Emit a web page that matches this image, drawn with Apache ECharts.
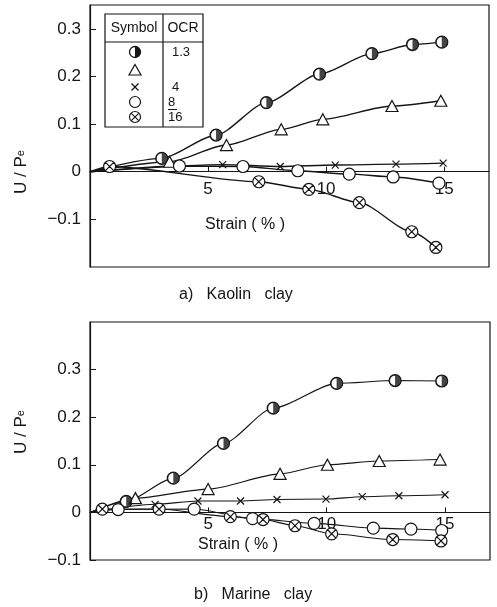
<!DOCTYPE html>
<html>
<head>
<meta charset="utf-8">
<script src="https://cdn.jsdelivr.net/npm/echarts@6/dist/echarts.min.js"></script>
<style>
  html, body { margin: 0; padding: 0; background: #fff; }
  #chart { width: 497px; height: 607px; }
</style>
</head>
<body>
<div id="chart"></div>
<script>
// Pore pressure ratio U/Pe against axial strain (%), one curve per over-consolidation ratio.

const xTicks = [5, 10, 15];
const yTicks = [-0.1, 0, 0.1, 0.2, 0.3];
const ocrLabels = ['1.3', '', '4', '8', '16'];
const origin = [0, 0];

// a) Kaolin clay — [strain %, U/Pe]
const kaolinOcr13 = [[3.04, 0.028], [5.34, 0.077], [7.47, 0.145], [9.72, 0.205], [11.94, 0.248], [13.66, 0.267], [14.90, 0.272]];
const kaolinOcr2  = [[3.37, 0.021], [5.78, 0.056], [8.10, 0.089], [9.86, 0.110], [12.79, 0.138], [14.86, 0.149]];
const kaolinOcr4  = [[5.62, 0.015], [8.06, 0.011], [10.39, 0.014], [12.96, 0.016], [14.96, 0.018]];
const kaolinOcr8  = [[3.79, 0.012], [6.48, 0.011], [8.80, 0.002], [10.98, -0.005], [12.84, -0.011], [14.78, -0.024]];
const kaolinOcr16 = [[0.83, 0.011], [7.15, -0.021], [9.27, -0.037], [11.41, -0.065], [13.63, -0.126], [14.65, -0.159]];

// b) Marine clay — [strain %, U/Pe]
const marineOcr13 = [[1.53, 0.023], [3.52, 0.072], [5.64, 0.145], [7.74, 0.219], [10.42, 0.271], [12.89, 0.277], [14.86, 0.276]];
const marineOcr2  = [[1.92, 0.030], [4.99, 0.049], [8.03, 0.081], [10.03, 0.100], [12.22, 0.108], [14.79, 0.111]];
const marineOcr4  = [[2.75, 0.017], [4.56, 0.024], [6.36, 0.024], [7.90, 0.027], [9.97, 0.028], [11.50, 0.033], [13.05, 0.035], [15.00, 0.037]];
const marineOcr8  = [[1.19, 0.006], [4.40, 0.007], [6.87, -0.013], [9.47, -0.023], [11.97, -0.033], [13.56, -0.035], [14.86, -0.038]];
const marineOcr16 = [[0.52, 0.007], [2.92, 0.007], [5.93, -0.009], [7.31, -0.015], [8.66, -0.028], [10.21, -0.045], [12.79, -0.057], [14.83, -0.060]];

const INK = '#151515';
const FONT = 'Liberation Sans, Arial, sans-serif';

// marker shapes
const HALF_DISC = 'path://M0,-10A10,10,0,0,1,0,10A10,10,0,0,1,0,-10L0,-8.4A8.4,8.4,0,0,0,0,8.4Z';
const CROSS = 'path://M-1,-1L1,1M-1,1L1,-1';
const CIRCLE_X = 'path://M0,-10A10,10,0,1,1,0,10A10,10,0,1,1,0,-10ZM-6.8,-6.8L6.8,6.8M-6.8,6.8L6.8,-6.8';

const markers = [
  { symbol: 'circle',   size: 12, fill: '#fff', overlay: HALF_DISC }, // OCR 1.3
  { symbol: 'triangle', size: [12, 11], fill: '#fff' },               // OCR 2
  { symbol: CROSS,      size: 7,  fill: 'transparent' },              // OCR 4
  { symbol: 'circle',   size: 12, fill: '#fff' },                     // OCR 8
  { symbol: CIRCLE_X,   size: 12, fill: '#fff' }                      // OCR 16
];

function curve(points, m, axisIndex, lineWidth) {
  const list = [{ value: origin, symbol: 'none' }].concat(points);
  const out = [{
    type: 'line',
    xAxisIndex: axisIndex, yAxisIndex: axisIndex,
    data: list,
    smooth: 0.25,
    smoothMonotone: 'x',
    symbol: m.symbol,
    symbolSize: m.size,
    showAllSymbol: true,
    lineStyle: { color: INK, width: lineWidth },
    itemStyle: { color: m.fill, borderColor: INK, borderWidth: 1.2 },
    emphasis: { disabled: true },
    silent: true,
    z: 3
  }];
  if (m.overlay) {
    out.push({
      type: 'scatter',
      xAxisIndex: axisIndex, yAxisIndex: axisIndex,
      data: points,
      symbol: m.overlay,
      symbolSize: m.size,
      itemStyle: { color: INK },
      emphasis: { disabled: true },
      silent: true,
      z: 4
    });
  }
  return out;
}

const kaolinSets = [kaolinOcr13, kaolinOcr2, kaolinOcr4, kaolinOcr8, kaolinOcr16];
const marineSets = [marineOcr13, marineOcr2, marineOcr4, marineOcr8, marineOcr16];

let series = [];
kaolinSets.forEach((pts, i) => { series = series.concat(curve(pts, markers[i], 0, 1.4)); });
marineSets.forEach((pts, i) => { series = series.concat(curve(pts, markers[i], 1, 1.1)); });

function fmtY(v) {
  if (v === 0) return '0';
  return (v < 0 ? '\u22120.' : '0.') + Math.round(Math.abs(v) * 10);
}

const gridA = { left: 90, top: 5, width: 399, height: 262, yMin: -0.2, yMax: 0.35 };
const gridB = { left: 90, top: 322, width: 400, height: 238, yMin: -0.1, yMax: 0.4 };

// the strain axis runs along U/Pe = 0, so lift it from the grid bottom to that level
function xAxisDef(gridIndex, g, labelMargin) {
  const lift = (0 - g.yMin) / (g.yMax - g.yMin) * g.height;
  return {
    type: 'value', gridIndex: gridIndex, min: 0, max: 16.9,
    position: 'bottom', offset: -lift,
    axisLine: { onZero: false, lineStyle: { color: INK, width: 1.2 } },
    axisTick: { show: true, inside: true, length: 5, customValues: xTicks, lineStyle: { color: INK, width: 1 } },
    axisLabel: { customValues: xTicks, margin: labelMargin, color: INK, fontSize: 17, fontFamily: FONT },
    splitLine: { show: false }
  };
}

function yAxisDef(gridIndex, g) {
  return {
    type: 'value', gridIndex: gridIndex, min: g.yMin, max: g.yMax,
    axisLine: { show: true, onZero: false, lineStyle: { color: INK, width: 1.2 } },
    axisTick: { show: true, inside: true, length: 6, customValues: yTicks, lineStyle: { color: INK, width: 1 } },
    axisLabel: { customValues: yTicks, margin: 9, color: INK, fontSize: 17, fontFamily: FONT, formatter: fmtY },
    splitLine: { show: false }
  };
}

// symbol/OCR table drawn inside the Kaolin panel
const rowY = [52, 70, 87, 102, 117];
const symX = 135;
const R = 5.5;
const legendGraphics = [
  { type: 'rect', shape: { x: 105, y: 14, width: 98, height: 113 }, style: { fill: '#fff', stroke: INK, lineWidth: 1.2 }, z: 10 },
  { type: 'line', shape: { x1: 105, y1: 42, x2: 203, y2: 42 }, style: { stroke: INK, lineWidth: 1.2 }, z: 11 },
  { type: 'line', shape: { x1: 163, y1: 14, x2: 163, y2: 127 }, style: { stroke: INK, lineWidth: 1.2 }, z: 11 },
  { type: 'text', x: 134, y: 28, style: { text: 'Symbol', fill: INK, font: '14px ' + FONT, textAlign: 'center', textVerticalAlign: 'middle' }, z: 11 },
  { type: 'text', x: 183, y: 28, style: { text: 'OCR', fill: INK, font: '14px ' + FONT, textAlign: 'center', textVerticalAlign: 'middle' }, z: 11 },
  // half-filled circle
  { type: 'circle', shape: { cx: symX, cy: rowY[0], r: R }, style: { fill: '#fff', stroke: INK, lineWidth: 1.3 }, z: 11 },
  { type: 'sector', shape: { cx: symX, cy: rowY[0], r: R, r0: 0, startAngle: -Math.PI / 2, endAngle: Math.PI / 2, clockwise: true }, style: { fill: INK }, z: 12 },
  // triangle
  { type: 'polygon', shape: { points: [[symX, rowY[1] - 5.5], [symX + 6, rowY[1] + 5], [symX - 6, rowY[1] + 5]] }, style: { fill: '#fff', stroke: INK, lineWidth: 1.2 }, z: 11 },
  // cross
  { type: 'line', shape: { x1: symX - 3.5, y1: rowY[2] - 3.5, x2: symX + 3.5, y2: rowY[2] + 3.5 }, style: { stroke: INK, lineWidth: 1.3 }, z: 11 },
  { type: 'line', shape: { x1: symX - 3.5, y1: rowY[2] + 3.5, x2: symX + 3.5, y2: rowY[2] - 3.5 }, style: { stroke: INK, lineWidth: 1.3 }, z: 11 },
  // open circle
  { type: 'circle', shape: { cx: symX, cy: rowY[3], r: R }, style: { fill: '#fff', stroke: INK, lineWidth: 1.2 }, z: 11 },
  // crossed circle
  { type: 'circle', shape: { cx: symX, cy: rowY[4], r: R }, style: { fill: '#fff', stroke: INK, lineWidth: 1.2 }, z: 11 },
  { type: 'line', shape: { x1: symX - 3.7, y1: rowY[4] - 3.7, x2: symX + 3.7, y2: rowY[4] + 3.7 }, style: { stroke: INK, lineWidth: 1.1 }, z: 12 },
  { type: 'line', shape: { x1: symX - 3.7, y1: rowY[4] + 3.7, x2: symX + 3.7, y2: rowY[4] - 3.7 }, style: { stroke: INK, lineWidth: 1.1 }, z: 12 },
  // rule under "8"
  { type: 'line', shape: { x1: 168, y1: 109.5, x2: 177, y2: 109.5 }, style: { stroke: INK, lineWidth: 1 }, z: 11 }
];
ocrLabels.forEach((t, i) => {
  if (!t) return;
  legendGraphics.push({ type: 'text', x: i >= 3 ? 168 : 172, y: rowY[i], style: { text: t, fill: INK, font: '13px ' + FONT, textAlign: 'left', textVerticalAlign: 'middle' }, z: 11 });
});

function yName(cy) {
  return {
    type: 'text', x: 21, y: cy, rotation: Math.PI / 2,
    style: {
      text: '{a|U / P}{b|e}',
      fill: INK, textAlign: 'center', textVerticalAlign: 'middle',
      rich: {
        a: { fontSize: 17, fontFamily: FONT, fill: INK, lineHeight: 20 },
        b: { fontSize: 11, fontFamily: FONT, fill: INK, lineHeight: 20 }
      }
    }
  };
}

function plainText(x, y, t, size, align) {
  return { type: 'text', x: x, y: y, style: { text: t, fill: INK, font: size + 'px ' + FONT, textAlign: align || 'left', textVerticalAlign: 'middle' } };
}

const option = {
  backgroundColor: '#fff',
  animation: false,
  grid: [
    { left: gridA.left, top: gridA.top, width: gridA.width, height: gridA.height, show: true, borderColor: INK, borderWidth: 1.2, backgroundColor: 'transparent' },
    { left: gridB.left, top: gridB.top, width: gridB.width, height: gridB.height, show: true, borderColor: INK, borderWidth: 1.2, backgroundColor: 'transparent' }
  ],
  xAxis: [xAxisDef(0, gridA, 9), xAxisDef(1, gridB, 3)],
  yAxis: [yAxisDef(0, gridA), yAxisDef(1, gridB)],
  series: series,
  graphic: legendGraphics.concat([
    yName(172),
    yName(432),
    plainText(205, 225, 'Strain ( % )', 16),
    plainText(198, 545, 'Strain ( % )', 16),
    plainText(179, 295, 'a)   Kaolin   clay', 16),
    plainText(194, 595, 'b)   Marine   clay', 16)
  ])
};

echarts.init(document.getElementById('chart'), null, { renderer: 'canvas' }).setOption(option);
</script>
</body>
</html>
